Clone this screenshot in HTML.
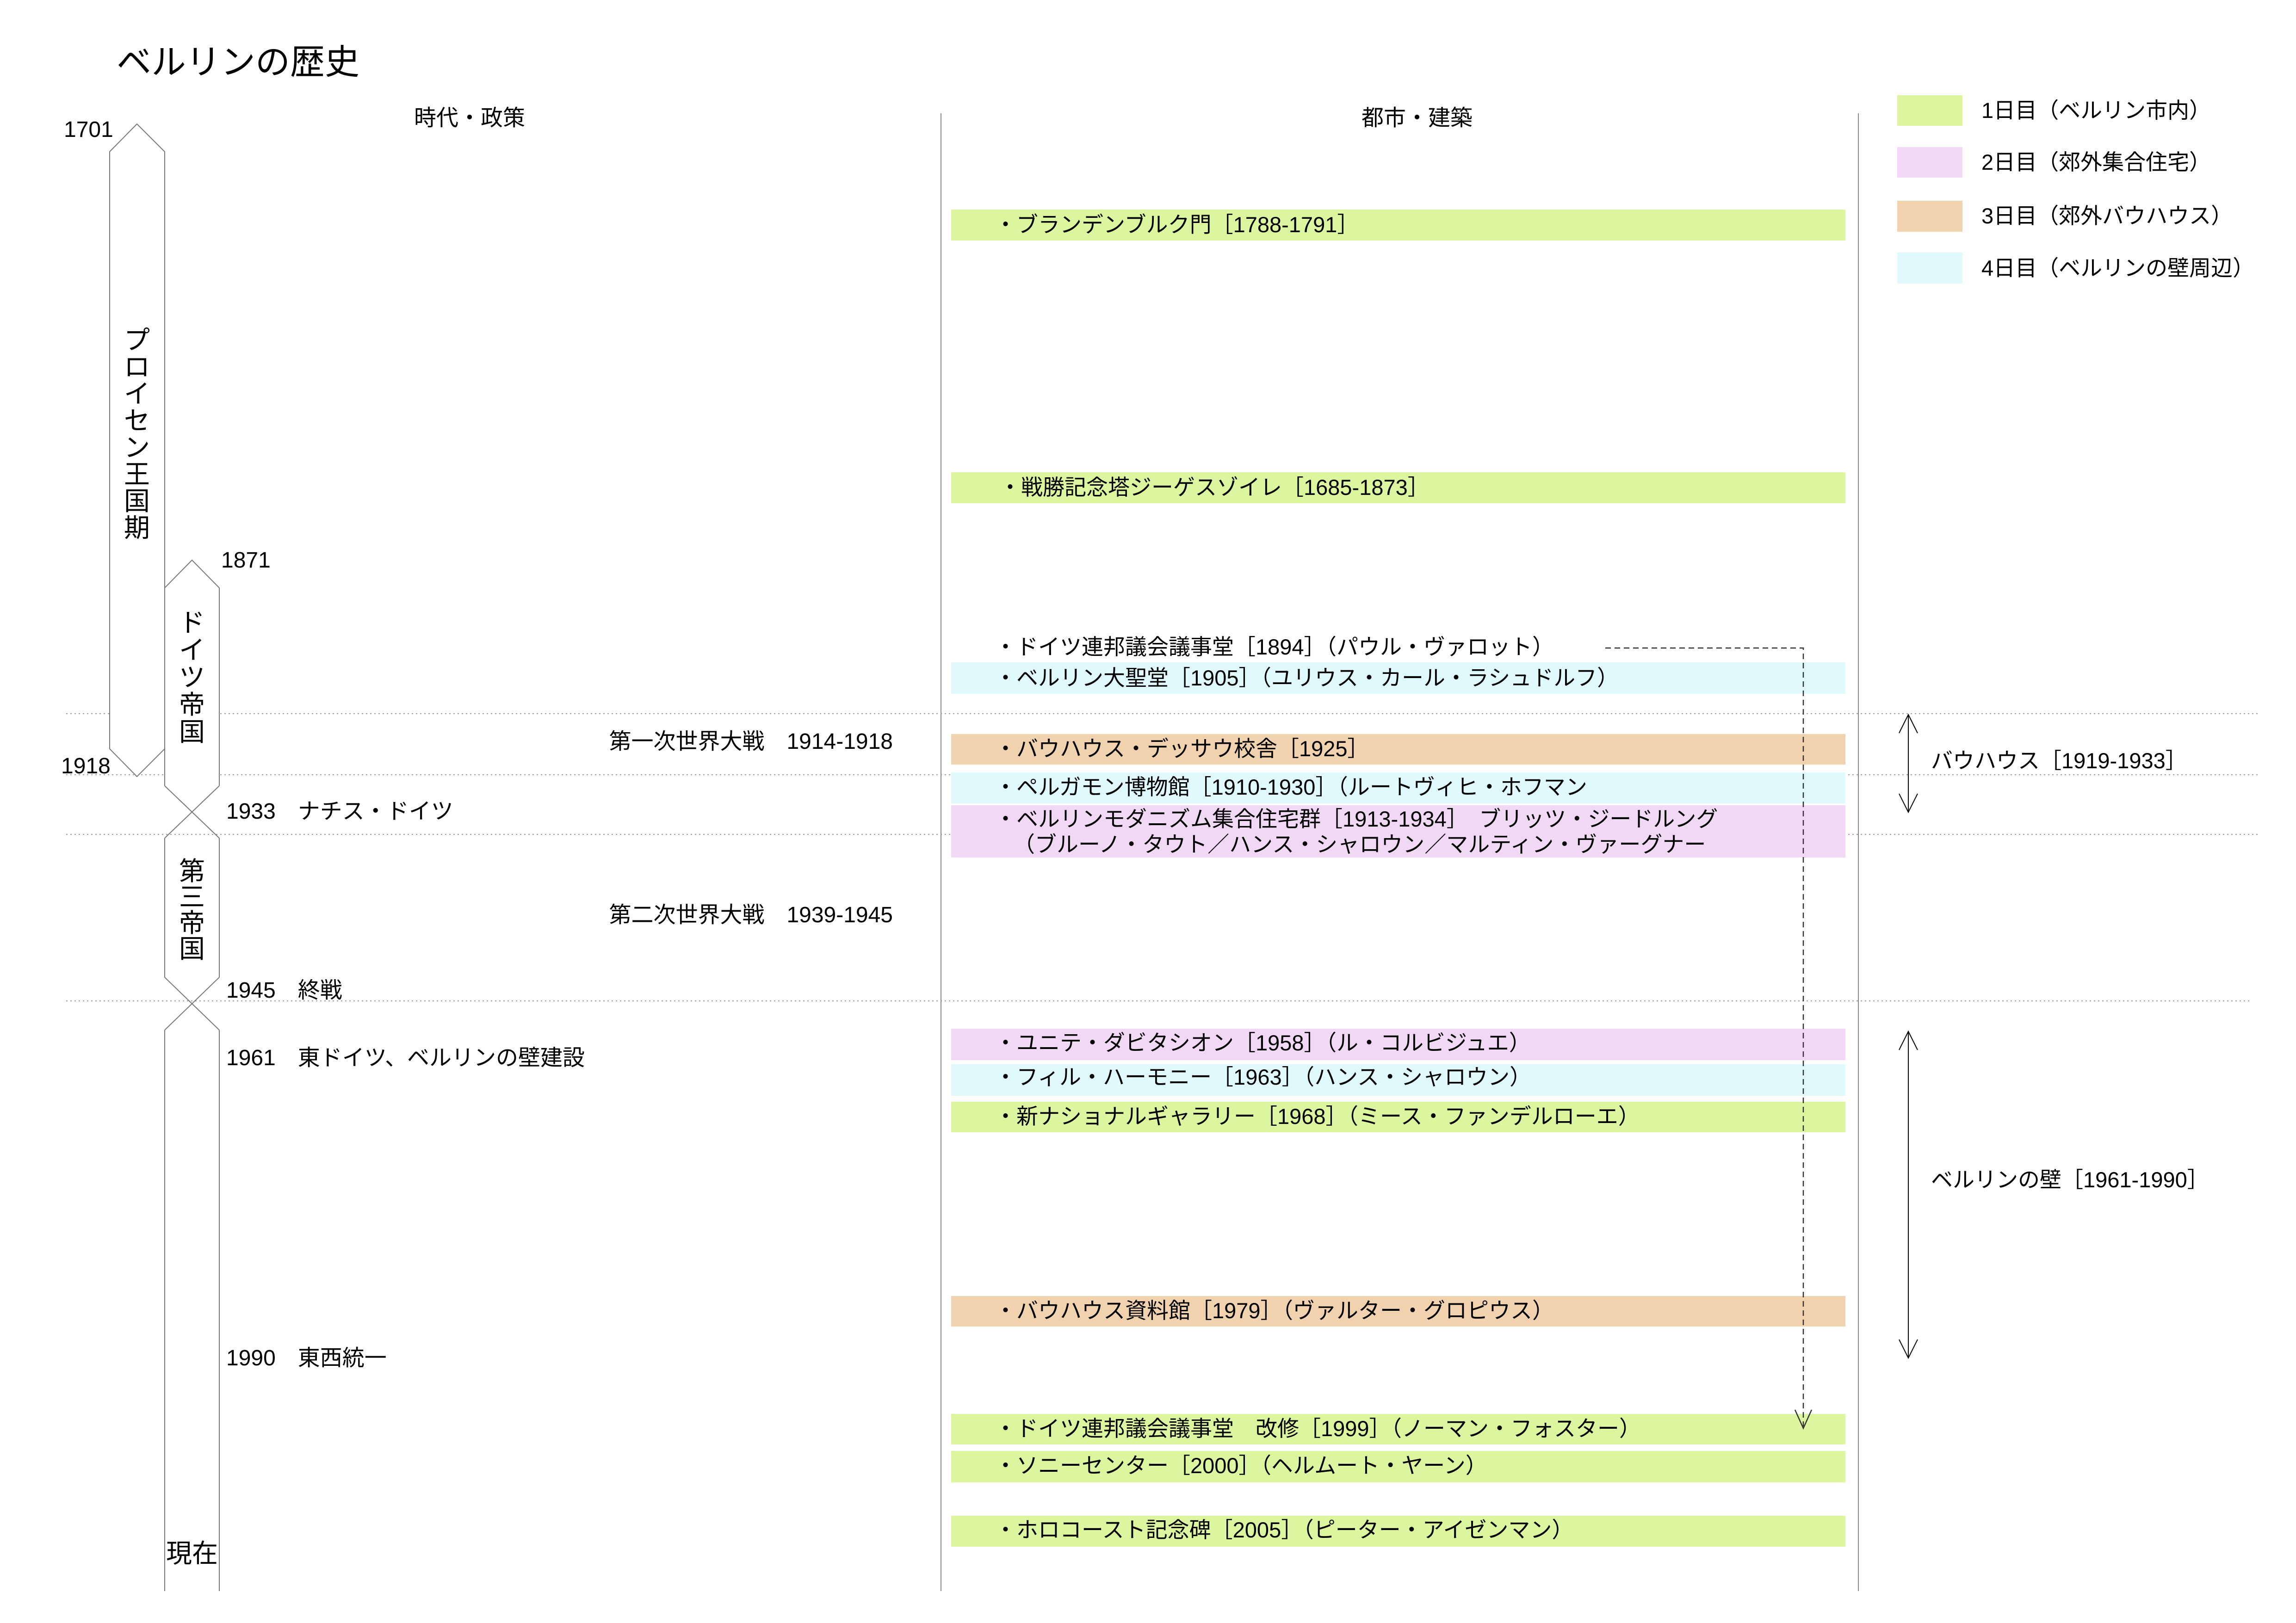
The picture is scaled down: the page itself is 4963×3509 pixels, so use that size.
<!DOCTYPE html>
<html><head><meta charset="utf-8"><style>
html,body{margin:0;padding:0;background:#fff}
svg{display:block}
text{font-family:"Liberation Sans","Noto Sans CJK JP",sans-serif;fill:#000}
</style></head><body>
<svg width="4963" height="3509" viewBox="0 0 4963 3509" xmlns="http://www.w3.org/2000/svg">
<text x="252" y="160" font-size="75">ベルリンの歴史</text>
<text x="1015" y="271" font-size="48" text-anchor="middle">時代・政策</text>
<text x="3063" y="271" font-size="48" text-anchor="middle">都市・建築</text>

<line x1="2034" y1="245" x2="2034" y2="3440" stroke="#888" stroke-width="2"/>
<line x1="4017" y1="245" x2="4017" y2="3440" stroke="#888" stroke-width="2"/>

<g stroke="#999" stroke-width="2" stroke-dasharray="3,6">
<line x1="143" y1="1543" x2="4880" y2="1543"/>
<line x1="143" y1="1675" x2="4880" y2="1675"/>
<line x1="143" y1="1804" x2="4880" y2="1804"/>
<line x1="143" y1="2164" x2="4865" y2="2164"/>
</g>

<rect x="4101" y="206" width="141" height="66" fill="#dbf69f"/>
<rect x="4101" y="318" width="141" height="66" fill="#f1d9f6"/>
<rect x="4101" y="434" width="141" height="67" fill="#f0d3ae"/>
<rect x="4101" y="546" width="141" height="67" fill="#e0f9fc"/>
<g font-size="47">
<text x="4283" y="255">1日目（ベルリン市内）</text>
<text x="4283" y="367">2日目（郊外集合住宅）</text>
<text x="4283" y="483">3日目（郊外バウハウス）</text>
<text x="4283" y="596">4日目（ベルリンの壁周辺）</text>
</g>

<rect x="2056" y="453" width="1933" height="67" fill="#dbf69f"/>
<rect x="2056" y="1021" width="1933" height="67" fill="#dbf69f"/>
<rect x="2056" y="1432" width="1933" height="68" fill="#e0f9fc"/>
<rect x="2056" y="1587" width="1933" height="66" fill="#f0d3ae"/>
<rect x="2056" y="1670" width="1933" height="67" fill="#e0f9fc"/>
<rect x="2056" y="1741" width="1933" height="113" fill="#f1d9f6"/>
<rect x="2056" y="2224" width="1933" height="68" fill="#f1d9f6"/>
<rect x="2056" y="2301" width="1933" height="68" fill="#e0f9fc"/>
<rect x="2056" y="2382" width="1933" height="66" fill="#dbf69f"/>
<rect x="2056" y="2802" width="1933" height="66" fill="#f0d3ae"/>
<rect x="2056" y="3057" width="1933" height="66" fill="#dbf69f"/>
<rect x="2056" y="3137" width="1933" height="68" fill="#dbf69f"/>
<rect x="2056" y="3277" width="1933" height="67" fill="#dbf69f"/>

<g font-size="47">
<text x="2150" y="502">・ブランデンブルク門［1788-1791］</text>
<text x="2160" y="1070">・戦勝記念塔ジーゲスゾイレ［1685-1873］</text>
<text x="2150" y="1415">・ドイツ連邦議会議事堂［1894］（パウル・ヴァロット）</text>
<text x="2150" y="1482">・ベルリン大聖堂［1905］（ユリウス・カール・ラシュドルフ）</text>
<text x="2150" y="1635">・バウハウス・デッサウ校舎［1925］</text>
<text x="2150" y="1718">・ペルガモン博物館［1910-1930］（ルートヴィヒ・ホフマン</text>
<text x="2150" y="1787">・ベルリンモダニズム集合住宅群［1913-1934］　ブリッツ・ジードルング</text>
<text x="2190" y="1842">（ブルーノ・タウト／ハンス・シャロウン／マルティン・ヴァーグナー</text>
<text x="2150" y="2271">・ユニテ・ダビタシオン［1958］（ル・コルビジュエ）</text>
<text x="2150" y="2345">・フィル・ハーモニー［1963］（ハンス・シャロウン）</text>
<text x="2150" y="2430">・新ナショナルギャラリー［1968］（ミース・ファンデルローエ）</text>
<text x="2150" y="2850">・バウハウス資料館［1979］（ヴァルター・グロピウス）</text>
<text x="2150" y="3105">・ドイツ連邦議会議事堂　改修［1999］（ノーマン・フォスター）</text>
<text x="2150" y="3185">・ソニーセンター［2000］（ヘルムート・ヤーン）</text>
<text x="2150" y="3324">・ホロコースト記念碑［2005］（ピーター・アイゼンマン）</text>
</g>

<path d="M3470,1401 L3898,1401 L3898,3084" fill="none" stroke="#333" stroke-width="2.5" stroke-dasharray="12,8"/>
<path d="M3880,3048 L3898,3088 L3916,3048" fill="none" stroke="#333" stroke-width="2.5"/>

<g fill="none" stroke="#000" stroke-width="2">
<line x1="4125" y1="1545" x2="4125" y2="1756"/>
<path d="M4105,1585 L4125,1545 L4145,1585"/>
<path d="M4105,1716 L4125,1756 L4145,1716"/>
<line x1="4125" y1="2230" x2="4125" y2="2936"/>
<path d="M4105,2270 L4125,2230 L4145,2270"/>
<path d="M4105,2896 L4125,2936 L4145,2896"/>
</g>
<text x="4174" y="1661" font-size="47">バウハウス［1919-1933］</text>
<text x="4174" y="2567" font-size="47">ベルリンの壁［1961-1990］</text>

<g fill="none" stroke="#777" stroke-width="2">
<path d="M237,328 L296,268 L356,328 L356,1619 L296,1679 L237,1619 Z" fill="#fff"/>
<path d="M356,1699 L356,1271 L415,1211 L474,1271 L474,1699" fill="#fff"/>
<path d="M356,1699 L474,1812 M474,1699 L356,1812"/>
<path d="M356,1812 L356,2113 L474,2227 M474,1812 L474,2113 L356,2227"/>
<path d="M356,2227 L356,3440 M474,2227 L474,3440"/>
</g>

<g font-size="56" text-anchor="middle">
<text x="296" y="755">プ</text><text x="296" y="813">ロ</text><text x="296" y="871">イ</text><text x="296" y="929">セ</text><text x="296" y="987">ン</text><text x="296" y="1045">王</text><text x="296" y="1103">国</text><text x="296" y="1161">期</text>
<text x="415" y="1366">ド</text><text x="415" y="1425">イ</text><text x="415" y="1484">ツ</text><text x="415" y="1543">帝</text><text x="415" y="1602">国</text>
<text x="415" y="1903">第</text><text x="415" y="1959">三</text><text x="415" y="2015">帝</text><text x="415" y="2071">国</text>
<text x="415" y="3378">現在</text>
</g>

<g font-size="48">
<text x="138" y="296">1701</text>
<text x="478" y="1227">1871</text>
<text x="132" y="1672">1918</text>
<text x="489" y="1770">1933　ナチス・ドイツ</text>
<text x="489" y="2157">1945　終戦</text>
<text x="489" y="2303">1961　東ドイツ、ベルリンの壁建設</text>
<text x="489" y="2952">1990　東西統一</text>
<text x="1930" y="1619" text-anchor="end">第一次世界大戦　1914-1918</text>
<text x="1930" y="1994" text-anchor="end">第二次世界大戦　1939-1945</text>
</g>
</svg>
</body></html>
